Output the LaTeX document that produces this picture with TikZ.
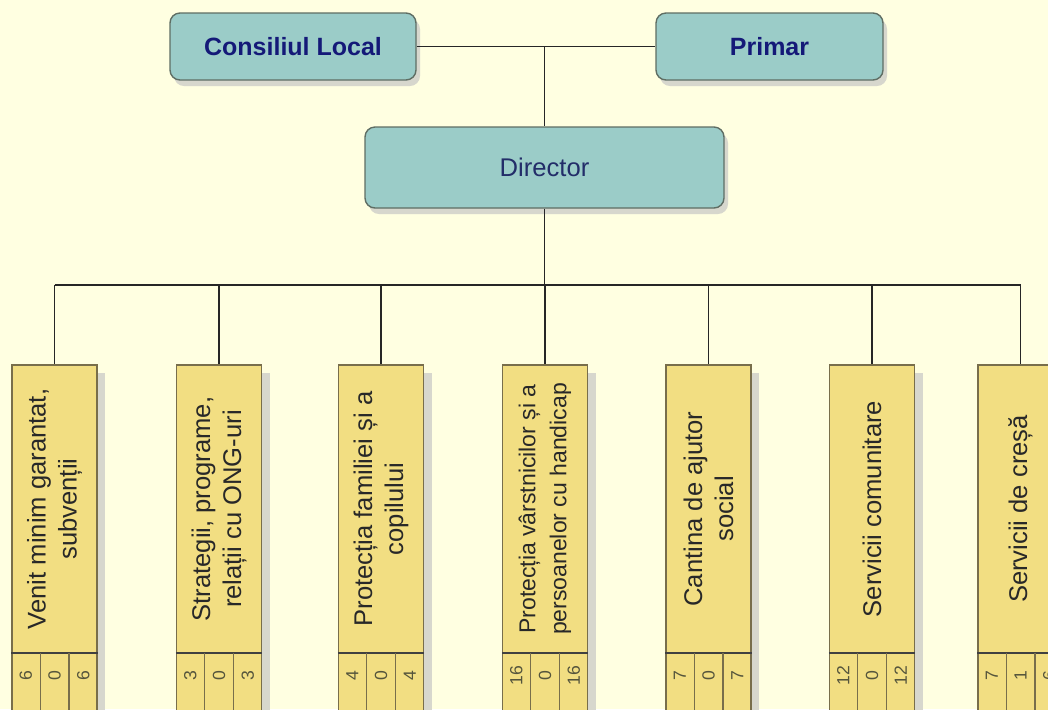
\documentclass[tikz,border=0pt]{standalone}
\usepackage{fontspec}
\setmainfont{Liberation Sans}
\usetikzlibrary{shadows,calc}
\definecolor{bgc}{RGB}{255,255,225}
\definecolor{tealc}{RGB}{155,204,200}
\definecolor{yelc}{RGB}{242,222,130}
\definecolor{tborder}{RGB}{95,110,100}
\definecolor{yborder}{RGB}{120,110,75}
\definecolor{shc}{RGB}{215,215,205}
\definecolor{navyc}{RGB}{20,25,120}
\definecolor{dirtext}{RGB}{35,45,105}
\definecolor{unittext}{RGB}{40,40,40}
\definecolor{numtext}{RGB}{85,85,60}
\tikzset{
  topbox/.style={draw=tborder, line width=0.7pt, fill=tealc, rounded corners=5pt,
    drop shadow={shadow xshift=2pt, shadow yshift=-3pt, fill=shc, opacity=1}, inner sep=0pt},
  unitbox/.style={draw=yborder, line width=0.7pt, fill=yelc, minimum width=42.5pt,
    minimum height=187.5pt, inner sep=0pt,
    drop shadow={shadow xshift=4pt, shadow yshift=-4pt, fill=shc, opacity=1}},
  unittxt/.style={rotate=90, align=center, text=unittext, inner sep=0pt},
  numtxt/.style={rotate=90, text=numtext, inner sep=0pt, font=\fontsize{8.8}{10}\selectfont},
  link/.style={draw=black!85, line width=0.7pt},
  cellline/.style={draw=yborder, line width=0.6pt},
  divline/.style={draw=black!75, line width=0.9pt},
}
\newcommand\mkunit[7]{%
  \node[unitbox] (#1) at (#2,552.5) {};
  \node[unittxt, font=\fontsize{#7}{15.5}\selectfont] (#1t) at (#2,509) {#3};
  \coordinate (#1dl) at ($(#1.north west)+(0,289)$);
  \coordinate (#1dr) at ($(#1.north east)+(0,289)$);
  \draw[divline] (#1dl) -- (#1dr);
  \draw[cellline] ($(#1dl)!1/3!(#1dr)$) -- ++(0,80);
  \draw[cellline] ($(#1dl)!2/3!(#1dr)$) -- ++(0,80);
  \node[numtxt] (#1na) at ($(#1dl)!1/6!(#1dr)+(0,22)$) {#4};
  \node[numtxt] (#1nb) at ($(#1dl)!3/6!(#1dr)+(0,22)$) {#5};
  \node[numtxt] (#1nc) at ($(#1dl)!5/6!(#1dr)+(0,22)$) {#6};
}
\begin{document}
\begin{tikzpicture}[x=0.5pt,y=-0.5pt]
\useasboundingbox (0,0) rectangle (1048,709);
\fill[bgc] (0,0) rectangle (1048,709);
\clip (0,0) rectangle (1048,709);

\node[topbox, minimum width=123pt, minimum height=33.5pt, text=navyc,
  font=\bfseries\fontsize{12.5}{15}\selectfont] (cl) at (293,46.5) {Consiliul Local};
\node[topbox, minimum width=113.5pt, minimum height=33.5pt, text=navyc,
  font=\bfseries\fontsize{12.5}{15}\selectfont] (pr) at (769.5,46.5) {Primar};
\node[topbox, minimum width=179.5pt, minimum height=40.5pt, text=dirtext,
  font=\fontsize{12.8}{15}\selectfont] (dir) at (544.5,167.5) {Director};

\mkunit{b1}{54.5}{Venit minim garantat,\\ subvenții}{6}{0}{6}{12.8}
\mkunit{b2}{219}{Strategii, programe,\\ relații cu ONG-uri}{3}{0}{3}{12.8}
\mkunit{b3}{381}{Protecția familiei și a\\ copilului}{4}{0}{4}{12.8}
\mkunit{b4}{545}{Protecția vârstnicilor și a\\ persoanelor cu handicap}{16}{0}{16}{11.5}
\mkunit{b5}{708.5}{Cantina de ajutor\\ social}{7}{0}{7}{12.8}
\mkunit{b6}{872}{Servicii comunitare}{12}{0}{12}{12.8}
\mkunit{b7}{1020.5}{Servicii de creșă}{7}{1}{6}{12.8}

\draw[link] (cl.east) -- (pr.west);
\coordinate (j) at (dir.north |- cl.east);
\draw[link] (j) -- (dir.north);
\coordinate (busy) at (0,285);
\coordinate (bus) at (dir.south |- busy);
\draw[link] (dir.south) -- (bus);
\draw[link] (b1.north |- busy) -- (b7.north |- busy);
\foreach \i in {1,...,7}{
  \draw[link] (b\i.north |- busy) -- (b\i.north);
}
\end{tikzpicture}
\end{document}
